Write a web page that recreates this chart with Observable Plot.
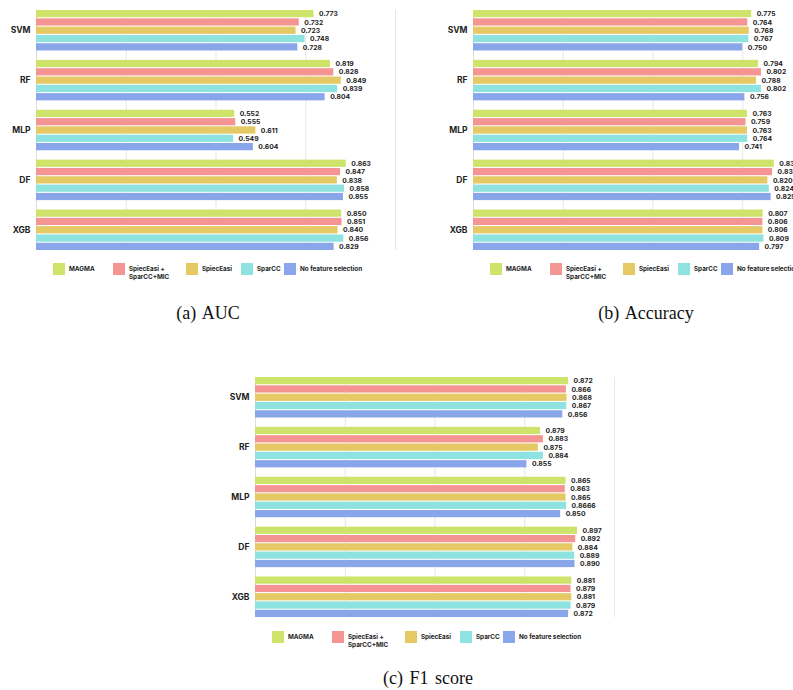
<!DOCTYPE html>
<html><head><meta charset="utf-8">
<script src="https://cdn.jsdelivr.net/npm/d3@7"></script>
<script src="https://cdn.jsdelivr.net/npm/@observablehq/plot@0.6"></script>
<style>
html,body{margin:0;padding:0;background:#fff;overflow:hidden;width:793px;height:690px;}
#root{position:relative;width:793px;height:690px;overflow:hidden;}
.panel{position:absolute;width:400px;height:260px;}
.panel svg{overflow:visible;max-width:none !important;width:400px;height:260px;}
.legend{position:absolute;display:flex;font-family:Inter,"Liberation Sans",sans-serif;font-weight:700;font-size:6.3px;color:#222;}
.item{display:flex;align-items:flex-start;flex:none;}
.sw{width:12px;height:12px;margin-right:4px;flex:none;}
.lab{padding-top:2px;line-height:8px;white-space:nowrap;}
.cap{position:absolute;font-family:"Liberation Serif","Times New Roman",serif;font-size:18px;line-height:20px;word-spacing:2px;text-align:center;width:240px;color:#111;}
</style></head><body><div id="root"></div>
<script>
const models = ["SVM", "RF", "MLP", "DF", "XGB"];
const methods = ["MAGMA", "SpiecEasi + SparCC+MIC", "SpiecEasi", "SparCC", "No feature selection"];
const legendLabels = ["MAGMA", "SpiecEasi +\nSparCC+MIC", "SpiecEasi", "SparCC", "No feature selection"];
const colors = ["#cde36a", "#f59593", "#e4c964", "#8ee3e0", "#89a6ea"];

// values ordered model by model, methods in the order above
const aucValues = [
  0.773, 0.732, 0.723, 0.748, 0.728,
  0.819, 0.828, 0.849, 0.839, 0.804,
  0.552, 0.555, 0.611, 0.549, 0.604,
  0.863, 0.847, 0.838, 0.858, 0.855,
  0.850, 0.851, 0.840, 0.856, 0.829
];
const accValues = [
  0.775, 0.764, 0.768, 0.767, 0.750,
  0.794, 0.802, 0.788, 0.802, 0.756,
  0.763, 0.759, 0.763, 0.764, 0.741,
  0.838, 0.833, 0.820, 0.824, 0.829,
  0.807, 0.806, 0.806, 0.809, 0.797
];
// F1 bar lengths as drawn (RF bars in the original are drawn shorter than their labels)
const f1Values = [
  0.872, 0.866, 0.868, 0.867, 0.856,
  0.794, 0.802, 0.788, 0.802, 0.756,
  0.865, 0.863, 0.865, 0.8666, 0.850,
  0.897, 0.892, 0.884, 0.889, 0.890,
  0.881, 0.879, 0.881, 0.879, 0.872
];
const f1Labels = [
  "0.872", "0.866", "0.868", "0.867", "0.856",
  "0.879", "0.883", "0.875", "0.884", "0.855",
  "0.865", "0.863", "0.865", "0.8666", "0.850",
  "0.897", "0.892", "0.884", "0.889", "0.890",
  "0.881", "0.879", "0.881", "0.879", "0.872"
];
const captions = ["(a) AUC", "(b) Accuracy", "(c) F1 score"];

const fmt = d3.format(".3f");
const key = (m, t) => m + "|" + t;
const yDomain = [];
models.forEach((m, i) => {
  methods.forEach(t => yDomain.push(key(m, t)));
  if (i < models.length - 1) yDomain.push("gap" + i);
});

function buildRows(values, labels) {
  const rows = [];
  models.forEach((m, i) => methods.forEach((t, j) => {
    const k = i * methods.length + j;
    rows.push({model: m, method: t, key: key(m, t), value: values[k], label: labels ? labels[k] : fmt(values[k])});
  }));
  return rows;
}

function chart(rows) {
  return Plot.plot({
    width: 400, height: 260,
    marginLeft: 36, marginRight: 5, marginTop: 10, marginBottom: 10,
    x: {domain: [0, 1], axis: null},
    y: {domain: yDomain, axis: null, paddingInner: 0.13, paddingOuter: 0, round: false},
    color: {domain: methods, range: colors},
    style: {fontFamily: "Inter, 'Liberation Sans', sans-serif", background: "transparent", overflow: "visible"},
    marks: [
      Plot.ruleX([0.25, 0.5, 0.75, 1], {stroke: "#e7e7e7", strokeWidth: 1}),
      Plot.ruleX([0], {stroke: "#dcdcdc", strokeWidth: 1}),
      Plot.barX(rows, {x: "value", y: "key", fill: "method"}),
      Plot.text(rows, {x: "value", y: "key", text: "label", dx: 5, textAnchor: "start", fontSize: 6.8, fontWeight: 700, fill: "#222"}),
      Plot.text(models, {y: d => key(d, methods[2]), text: d => d, frameAnchor: "left", dx: -6, textAnchor: "end", fontSize: 8.5, fontWeight: 700, fill: "#222"})
    ]
  });
}

const root = document.getElementById("root");
const itemWidths = [60, 73, 55, 43, 90];
const panels = [
  {rows: buildRows(aucValues), left: 0, top: 0, legendTop: 263, capX: 208, capY: 303},
  {rows: buildRows(accValues), left: 437, top: 0, legendTop: 263, capX: 646, capY: 303},
  {rows: buildRows(f1Values, f1Labels), left: 219, top: 367, legendTop: 631, capX: 428, capY: 668}
];
panels.forEach((p, idx) => {
  const div = document.createElement("div");
  div.className = "panel";
  div.style.left = p.left + "px";
  div.style.top = p.top + "px";
  div.appendChild(chart(p.rows));
  root.appendChild(div);

  const lg = document.createElement("div");
  lg.className = "legend";
  lg.style.left = (p.left + 36 + 17) + "px";
  lg.style.top = p.legendTop + "px";
  methods.forEach((m, j) => {
    const it = document.createElement("div");
    it.className = "item";
    it.style.width = itemWidths[j] + "px";
    const sw = document.createElement("div");
    sw.className = "sw";
    sw.style.background = colors[j];
    const lab = document.createElement("div");
    lab.className = "lab";
    lab.innerHTML = legendLabels[j].split("\n").join("<br>");
    it.appendChild(sw); it.appendChild(lab);
    lg.appendChild(it);
  });
  root.appendChild(lg);

  const cap = document.createElement("div");
  cap.className = "cap";
  cap.textContent = captions[idx];
  cap.style.left = (p.capX - 120) + "px";
  cap.style.top = p.capY + "px";
  root.appendChild(cap);
});
</script>
</body></html>
